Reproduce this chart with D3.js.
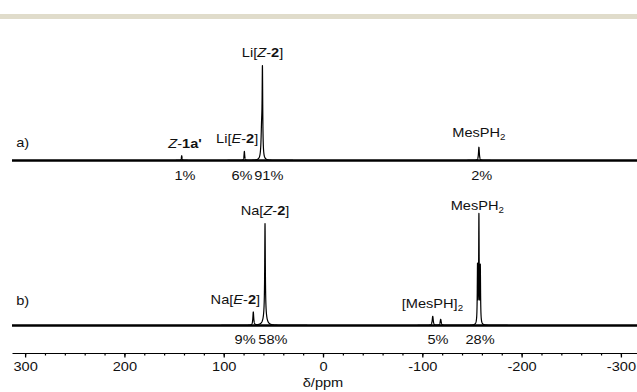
<!DOCTYPE html>
<html>
<head>
<meta charset="utf-8">
<script src="https://cdn.jsdelivr.net/npm/d3@7"></script>
<style>
  html, body { margin: 0; padding: 0; background: #fff; }
  svg { display: block; }
  text { font-family: "Liberation Sans", Arial, sans-serif; fill: #111; }
</style>
</head>
<body>
<svg width="637" height="392"></svg>
<script>
// ---- data ----
const ppmRange = [313.2, -316.2];
const majorTicks = [300, 200, 100, 0, -100, -200, -300];
const minorTicks = d3.range(-300, 301, 20);

// spectrum a) : peak shift (ppm), relative height, half width (ppm)
const peaksAShift = [61.0, 61.8, 79.2, 142.3, -157.0];
const peaksAHeight = [87, 30, 9.5, 5, 14];
const peaksAWidth = [0.35, 0.7, 0.4, 0.4, 0.5];

// spectrum b)
const peaksBShift = [58.4, 58.4, 70.2, -110.5, -118.5, -155.6, -157.0, -158.4];
const peaksBHeight = [88, 12, 13, 9, 6, 56, 105, 55];
const peaksBWidth = [0.35, 1.6, 0.5, 0.6, 0.6, 0.3, 0.3, 0.3];

// labels: text segments [text, style], anchor shift (ppm), height (relative units), anchor
const labelsA = [
  { parts: [['a)', '']], ppm: 309, h: 14, anchor: 'start' },
  { parts: [['Z', 'i'], ['-', ''], ['1a\'', 'b']], ppm: 139, h: 13, anchor: 'middle' },
  { parts: [['Li[', ''], ['E', 'i'], ['-', ''], ['2', 'b'], [']', '']], ppm: 65.2, h: 18.4, anchor: 'end' },
  { parts: [['Li[', ''], ['Z', 'i'], ['-', ''], ['2', 'b'], [']', '']], ppm: 60.9, h: 109, anchor: 'middle' },
  { parts: [['MesPH', ''], ['2', 'sub']], ppm: -130.2, h: 24.4, anchor: 'start' }
];
const pctA = ['1%', '6%', '91%', '2%'];
const pctAShift = [139, 81.6, 54.6, -159.8];

const labelsB = [
  { parts: [['b)', '']], ppm: 309, h: 20, anchor: 'start' },
  { parts: [['Na[', ''], ['E', 'i'], ['-', ''], ['2', 'b'], [']', '']], ppm: 63.4, h: 21, anchor: 'end' },
  { parts: [['Na[', ''], ['Z', 'i'], ['-', ''], ['2', 'b'], [']', '']], ppm: 58.4, h: 108.3, anchor: 'middle' },
  { parts: [['[MesPH]', ''], ['2', 'sub']], ppm: -79.3, h: 17, anchor: 'start' },
  { parts: [['MesPH', ''], ['2', 'sub']], ppm: -128.6, h: 113, anchor: 'start' }
];
const pctB = ['9%', '58%', '5%', '28%'];
const pctBShift = [78.5, 50.4, -115.8, -158.1];

// ---- layout ----
const svg = d3.select('svg');
const FONT = 13.5;
const SX = 1.08;

svg.append('rect')
  .attr('x', 0).attr('y', 14).attr('width', 637).attr('height', 5)
  .attr('fill', '#e0dccb');

const x = d3.scaleLinear().domain(ppmRange).range([12, 637]);
const yA = d3.scaleLinear().domain([0, 100]).range([160.5, 65.5]);
const yB = d3.scaleLinear().domain([0, 100]).range([325.5, 223.5]);

function spectrum(shifts, heights, widths) {
  const pts = [];
  for (let p = ppmRange[0]; p >= ppmRange[1]; p -= 0.05) {
    let v = 0;
    shifts.forEach((s, i) => {
      const w = widths[i];
      v += heights[i] * w * w / ((p - s) * (p - s) + w * w);
    });
    pts.push([p, v]);
  }
  return pts;
}

function drawSpectrum(shifts, heights, widths, y) {
  const g = svg.append('g');
  // thick baseline
  g.append('line')
    .attr('x1', x(ppmRange[0])).attr('x2', x(ppmRange[1]))
    .attr('y1', y(0)).attr('y2', y(0))
    .attr('stroke', '#000').attr('stroke-width', 2.6);
  const line = d3.line().x(d => x(d[0])).y(d => y(d[1]));
  g.append('path')
    .datum(spectrum(shifts, heights, widths))
    .attr('d', line)
    .attr('fill', 'none')
    .attr('stroke', '#000')
    .attr('stroke-width', 1.2)
    .attr('stroke-linejoin', 'round');
}

drawSpectrum(peaksAShift, peaksAHeight, peaksAWidth, yA);
drawSpectrum(peaksBShift, peaksBHeight, peaksBWidth, yB);

function drawLabel(lbl, y) {
  const t = svg.append('text')
    .attr('transform', `translate(${x(lbl.ppm)},${y(lbl.h)}) scale(${SX},1)`)
    .attr('text-anchor', lbl.anchor)
    .style('font-size', FONT + 'px');
  lbl.parts.forEach(([txt, st]) => {
    const ts = t.append('tspan').text(txt);
    if (st === 'i') ts.style('font-style', 'italic');
    if (st === 'b') ts.style('font-weight', 'bold');
    if (st === 'sub') ts.style('font-size', '9px').attr('dy', 3);
  });
}

labelsA.forEach(l => drawLabel(l, yA));
labelsB.forEach(l => drawLabel(l, yB));

function drawPct(texts, shifts, yPix) {
  texts.forEach((t, i) => {
    svg.append('text')
      .attr('transform', `translate(${x(shifts[i])},${yPix}) scale(${SX},1)`)
      .attr('text-anchor', 'middle')
      .style('font-size', FONT + 'px')
      .text(t);
  });
}
drawPct(pctA, pctAShift, 180);
drawPct(pctB, pctBShift, 344);

// ---- axis ----
const axisY = 353;
svg.append('g')
  .attr('transform', `translate(0,${axisY})`)
  .call(d3.axisBottom(x).tickValues(minorTicks).tickSize(2.5).tickSizeOuter(0).tickFormat(''))
  .call(g => g.selectAll('line').attr('stroke', '#000').attr('stroke-width', 1.2))
  .call(g => g.select('.domain').attr('stroke', '#000').attr('stroke-width', 1.2));

svg.append('g')
  .attr('transform', `translate(0,${axisY})`)
  .call(d3.axisBottom(x).tickValues(majorTicks).tickSize(4.5).tickSizeOuter(0).tickFormat(d => String(d)))
  .call(g => g.select('.domain').remove())
  .call(g => g.selectAll('line').attr('stroke', '#000').attr('stroke-width', 1.3))
  .call(g => g.selectAll('text')
    .attr('y', 18).attr('dy', null)
    .attr('transform', `scale(${SX},1)`)
    .style('font-size', FONT + 'px')
    .style('font-family', '"Liberation Sans", Arial, sans-serif')
    .attr('fill', '#111'));

svg.append('text')
  .attr('transform', `translate(${x(0)},387) scale(${SX},1)`)
  .attr('text-anchor', 'middle')
  .style('font-size', FONT + 'px')
  .text('δ/ppm');
</script>
</body>
</html>
